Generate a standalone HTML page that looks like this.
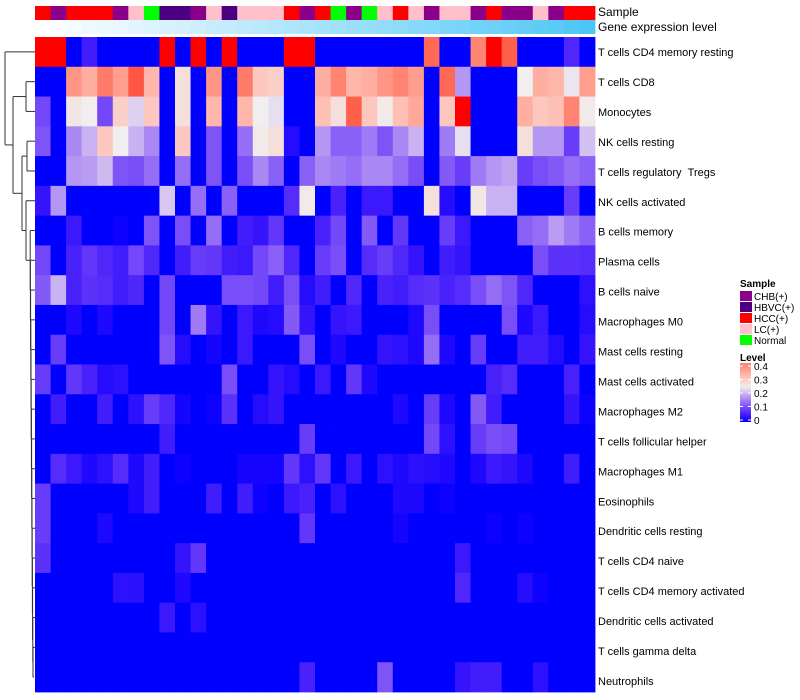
<!DOCTYPE html>
<html><head><meta charset="utf-8"><style>
html,body{margin:0;padding:0;background:#fff;width:800px;height:700px;overflow:hidden}
svg{display:block;font-family:"Liberation Sans",sans-serif}
</style></head><body>
<svg id="chart" width="800" height="700" viewBox="0 0 800 700" xmlns="http://www.w3.org/2000/svg">
<g id="dendro" stroke="#333" stroke-width="1" fill="none"></g>
<g id="annot"></g>
<g id="cells"></g>
<g id="rowlabels" font-size="11" fill="#000"></g>
<text x="598" y="16" font-size="12">Sample</text>
<text x="598" y="31" font-size="12">Gene expression level</text>
<g id="legend" font-size="10"></g>
</svg>
<script>
const rowNames = ["T cells CD4 memory resting","T cells CD8","Monocytes","NK cells resting","T cells regulatory\u00a0\u00a0Tregs","NK cells activated","B cells memory","Plasma cells","B cells naive","Macrophages M0","Mast cells resting","Mast cells activated","Macrophages M2","T cells follicular helper","Macrophages M1","Eosinophils","Dendritic cells resting","T cells CD4 naive","T cells CD4 memory activated","Dendritic cells activated","T cells gamma delta","Neutrophils"];
const sampleGroups = ["HCC","CHB","HCC","HCC","HCC","CHB","LC","Normal","HBVC","HBVC","CHB","LC","HBVC","LC","LC","LC","HCC","CHB","HCC","Normal","CHB","Normal","LC","HCC","LC","CHB","LC","LC","CHB","HCC","CHB","CHB","LC","CHB","HCC","HCC"];
const geneLevel = [0,0.03,0.06,0.09,0.11,0.14,0.17,0.2,0.22,0.25,0.28,0.31,0.33,0.36,0.39,0.42,0.44,0.47,0.5,0.53,0.56,0.58,0.61,0.64,0.67,0.69,0.72,0.75,0.78,0.8,0.83,0.86,0.89,0.92,0.96,1];
const legendSamples = ["CHB(+)","HBVC(+)","HCC(+)","LC(+)","Normal"];
const legendTicks = [0.4,0.3,0.2,0.1,0];
const r0 = [.45,.45,0,.04,0,0,0,0,.45,0,.45,0,.45,0,0,0,.45,.45,0,0,0,0,0,0,0,.36,0,0,.33,.45,.37,0,0,0,.05,0];
const r1 = [0,0,.31,.28,.34,.30,.38,.27,0,.22,0,.31,0,.34,.25,.24,0,0,.28,.33,.27,.28,.31,.33,.30,0,.36,.14,0,0,0,.2,.28,.27,.195,.30];
const r2 = [.08,0,.21,.2,.08,.24,.18,.25,0,.22,0,.27,0,.27,.2,.19,0,0,.26,.22,.37,.25,.205,.26,.29,0,.25,.45,0,0,0,.28,.25,.26,.33,.205];
const r3 = [.09,0,.13,.16,.25,.2,.16,.13,0,.25,0,.09,0,.11,.205,.22,.02,0,.14,.10,.10,.12,.09,.13,.16,0,.12,.19,0,0,0,.22,.14,.14,.07,.17];
const r4 = [0,0,.14,.145,.165,.09,.085,.11,0,.11,0,.09,0,.085,.13,.10,0,.10,.13,.12,.11,.13,.13,.11,.085,0,.095,.07,.12,.14,.15,.07,.085,.095,.11,.10];
const r5 = [.03,.14,0,0,0,0,0,0,.175,0,.11,0,.10,0,0,0,.055,.205,0,.045,0,.035,.035,0,0,.22,.02,0,.21,.16,.16,0,0,0,.07,0];
const r6 = [0,0,.035,0,0,.005,0,.09,0,.085,0,.11,0,.04,.03,.065,0,0,.045,.08,0,.095,0,.065,0,0,.07,.035,0,0,0,.10,.11,.145,.12,.10];
const r7 = [.08,0,.045,.065,.05,.04,.08,.05,0,.04,.07,.065,.04,.035,.08,.10,.05,0,.07,.085,0,.055,.07,.05,.03,0,.04,.03,0,0,0,0,.085,.06,.06,.055];
const r8 = [.095,.16,.045,.06,.055,.04,.05,0,.08,0,0,0,.085,.085,.08,.04,.085,.02,.04,0,.05,0,.045,.04,.055,.06,.045,.055,.085,.11,.09,.05,0,0,0,.025];
const r9 = [0,0,.015,0,.015,0,0,0,.08,0,.12,.03,0,.035,.015,.02,.095,.03,0,.03,.035,0,0,0,.015,.085,0,0,0,0,.085,.015,.035,0,0,.02];
const r10 = [0,.07,0,0,0,0,0,0,.09,.02,0,.01,0,.035,0,0,0,.085,0,.015,0,0,.03,.025,.015,.11,.015,0,.07,0,0,.04,.04,.02,0,.03];
const r11 = [.07,0,.065,.045,.02,.025,0,0,0,0,0,0,.085,0,0,.03,.02,0,.035,0,.065,.015,0,0,0,0,0,0,0,.045,.055,0,0,0,.045,0];
const r12 = [0,.04,0,0,.04,0,.025,.07,.05,.01,0,.005,.06,0,.02,.03,0,0,0,0,0,0,0,.015,0,.07,.015,0,.095,.04,0,0,0,0,.03,.005];
const r13 = [0,0,0,0,0,0,0,0,.04,0,0,0,0,0,0,0,0,.07,0,0,0,0,0,0,0,.08,.025,0,.07,.085,.08,0,0,0,0,0];
const r14 = [0,.055,.035,.015,.025,.055,.015,.04,0,.005,0,0,0,.01,.01,.01,.065,.025,.065,0,.035,0,.025,.015,.025,.02,.015,0,.015,.035,.03,.015,0,0,.04,0];
const r15 = [.07,0,0,0,0,0,.015,.04,0,0,0,.04,0,.04,.005,0,.035,.045,0,.025,0,0,0,.015,.015,0,.005,0,0,0,0,0,0,0,0,0];
const r16 = [.07,0,0,0,.015,0,0,0,0,0,0,0,0,0,0,0,0,.065,0,0,0,0,0,.01,0,0,0,0,0,.005,0,.005,0,0,0,0];
const r17 = [.06,0,0,0,0,0,0,0,0,.03,.065,0,0,0,0,0,0,0,0,0,0,0,0,0,0,0,0,.035,0,0,0,0,0,0,0,0];
const r18 = [0,0,0,0,0,.025,.025,0,0,.015,0,0,0,0,0,0,0,0,0,0,0,0,0,0,0,0,0,.05,0,0,0,.02,.005,0,0,0];
const r19 = [0,0,0,0,0,0,0,0,.035,0,.025,0,0,0,0,0,0,0,0,0,0,0,0,0,0,0,0,0,0,0,0,0,0,0,0,0];
const r20 = [0,0,0,0,0,0,0,0,0,0,0,0,0,0,0,0,0,0,0,0,0,0,0,0,0,0,0,0,0,0,0,0,0,0,0,0];
const r21 = [0,0,0,0,0,0,0,0,0,0,0,0,0,0,0,0,0,.045,0,0,0,0,.09,0,0,0,0,.03,.04,.04,0,0,.025,0,0,0];
const values = [r0,r1,r2,r3,r4,r5,r6,r7,r8,r9,r10,r11,r12,r13,r14,r15,r16,r17,r18,r19,r20,r21];

const NS = "http://www.w3.org/2000/svg";
const X0 = 35, X1 = 595, Y0 = 37, Y1 = 692;
const nCol = sampleGroups.length, nRow = rowNames.length;
const cw = (X1 - X0) / nCol, rh = (Y1 - Y0) / nRow;
const xCol = i => X0 + i * cw;
const yRow = i => Y0 + i * rh;
const groupColor = {"CHB":"#8b008b","HBVC":"#4b0082","HCC":"#ff0000","LC":"#ffc0cb","Normal":"#00ff00"};
const legendColor = {"CHB(+)":"#8b008b","HBVC(+)":"#4b0082","HCC(+)":"#ff0000","LC(+)":"#ffc0cb","Normal":"#00ff00"};

function color(v){
  if (v <= 0.2){
    const f = Math.max(0, v) / 0.2;
    const r = Math.round(240 * Math.pow(f, 0.8)), g = Math.round(238 * Math.pow(f, 1.3)), b = Math.round(255 - 17 * f);
    return `rgb(${r},${g},${b})`;
  }
  const f = Math.min(1, (v - 0.2) / 0.25);
  const r = Math.round(240 + 15 * Math.min(1, f * 4)), g = Math.round(238 * Math.pow(1 - f, 0.8)), b = Math.round(238 * (1 - f));
  return `rgb(${r},${g},${b})`;
}
function mk(tag, attrs, parent){
  const e = document.createElementNS(NS, tag);
  for (const k in attrs) e.setAttribute(k, attrs[k]);
  parent.appendChild(e);
  return e;
}

const cells = document.getElementById('cells');
values.forEach((row, ri) => {
  row.forEach((v, ci) => {
    const r = mk('rect', {x: xCol(ci).toFixed(2), y: yRow(ri).toFixed(2), width: (cw + 0.4).toFixed(2), height: (rh + 0.4).toFixed(2), fill: color(v)}, cells);
    
    
  });
});

const annot = document.getElementById('annot');
sampleGroups.forEach((g, ci) => {
  const r = mk('rect', {x: xCol(ci).toFixed(2), y: 6, width: (cw + 0.4).toFixed(2), height: 14, fill: groupColor[g]}, annot);
  
  
});
geneLevel.forEach((g, ci) => {
  const R = Math.round(255 - (255 - 75) * g), G = Math.round(255 - (255 - 198) * g), B = Math.round(255 - (255 - 245) * g);
  const r = mk('rect', {x: xCol(ci).toFixed(2), y: 20, width: (cw + 0.4).toFixed(2), height: 14, fill: `rgb(${R},${G},${B})`}, annot);
  
  
});

const rl = document.getElementById('rowlabels');
rowNames.forEach((n, ri) => {
  const t = mk('text', {x: 598, y: (52 + 4 + ri * 29.95).toFixed(1)}, rl);
  t.textContent = n;
  
  
});

// dendrogram
const dg = document.getElementById('dendro');
const cy = i => yRow(i) + rh / 2;
function line(x1, y1, x2, y2){ const l = mk('path', {d: `M${x1},${y1}L${x2},${y2}`}, dg);   }
function node(x, ya, yb, xa, xb){ line(xa, ya, x, ya); line(x, ya, x, yb); line(x, yb, xb, yb); }
let prevY = cy(21), prevX = 34;
for (let i = 20; i >= 6; i--){
  const x = 33 - (20 - i) * 0.2;
  node(x, cy(i), prevY, 35, prevX);
  prevY = (cy(i) + prevY) / 2; prevX = x;
}
const lowY = prevY, lowX = prevX;
node(26, cy(5), lowY, 35, lowX);
const aY = (cy(5) + lowY) / 2;
node(27, cy(3), cy(4), 35, 35);
const bY = (cy(3) + cy(4)) / 2;
node(22, bY, aY, 27, 26);
const cY = (bY + aY) / 2;
node(26, cy(1), cy(2), 35, 35);
const dY = (cy(1) + cy(2)) / 2;
node(13, dY, cY, 26, 22);
const eY = (dY + cY) / 2;
node(5, cy(0), eY, 35, 13);

// legend
const lg = document.getElementById('legend');
const st = mk('text', {x: 740, y: 287, 'font-weight': 'bold'}, lg); st.textContent = 'Sample';
 
legendSamples.forEach((s, i) => {
  const y = 291 + i * 11;
  const r = mk('rect', {x: 740, y: y, width: 12, height: 10, fill: legendColor[s]}, lg);
   
  const t = mk('text', {x: 754, y: y + 9}, lg); t.textContent = s;
   
});
const lt = mk('text', {x: 740, y: 361, 'font-weight': 'bold'}, lg); lt.textContent = 'Level';
 
const defs = mk('defs', {}, lg);
const grad = mk('linearGradient', {id: 'lvl', x1: 0, y1: 1, x2: 0, y2: 0}, defs);
[0, 0.05, 0.1, 0.15, 0.2, 0.25, 0.3, 0.35, 0.42].forEach(v => {
  mk('stop', {offset: (v / 0.42).toFixed(3), 'stop-color': color(v * 0.8)}, grad);
});
const bar = mk('rect', {x: 740, y: 363, width: 11, height: 59, fill: 'url(#lvl)'}, lg);
 
legendTicks.forEach(v => {
  const y = 420 - v * 135;
  mk('line', {x1: 740, x2: 743, y1: y, y2: y, stroke: '#fff'}, lg);
  mk('line', {x1: 748, x2: 751, y1: y, y2: y, stroke: '#fff'}, lg);
  const t = mk('text', {x: 754, y: y + 4}, lg); t.textContent = v === 0 ? '0' : String(v);
   
});
</script>
</body></html>
